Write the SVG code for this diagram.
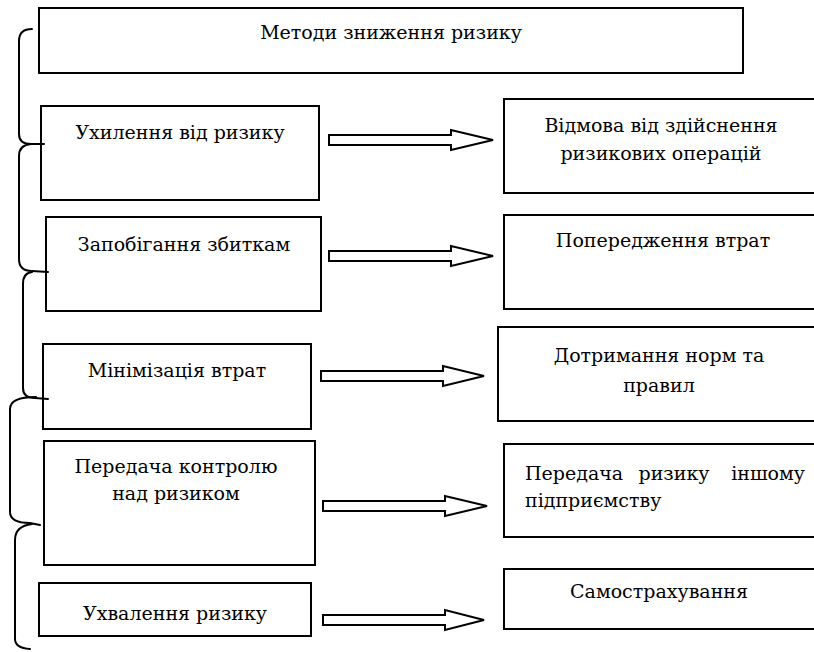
<svg xmlns="http://www.w3.org/2000/svg" width="814" height="652" viewBox="0 0 814 652">
  <defs>
    <style type="text/css">
      .box { fill: #ffffff; stroke: #000000; stroke-width: 2; }
      .arrow { fill: #ffffff; stroke: #000000; stroke-width: 2; stroke-linejoin: miter; }
      .brace { fill: none; stroke: #000000; stroke-width: 2; stroke-linecap: round; }
    </style>
  </defs>
  <rect width="814" height="652" fill="#ffffff"/>

  <g font-family="DejaVu Serif, Liberation Serif, serif" font-size="19" fill="#000000">
    <!-- root -->
    <g id="methods">
      <rect class="box" x="39" y="8" width="704" height="65"/>
      <text x="391" y="39" text-anchor="middle">Методи зниження ризику</text>
    </g>

    <!-- left column: methods -->
    <g id="avoidance">
      <rect class="box" x="41" y="106" width="278" height="94"/>
      <text x="180" y="139" text-anchor="middle">Ухилення від ризику</text>
    </g>
    <g id="prevention">
      <rect class="box" x="46" y="217" width="275" height="94"/>
      <text x="184" y="251" text-anchor="middle">Запобігання збиткам</text>
    </g>
    <g id="minimisation">
      <rect class="box" x="43" y="344" width="268" height="85"/>
      <text x="177" y="377" text-anchor="middle">Мінімізація втрат</text>
    </g>
    <g id="transfer">
      <rect class="box" x="44" y="441" width="271" height="124"/>
      <text x="176" y="473" text-anchor="middle">Передача контролю</text>
      <text x="176" y="500" text-anchor="middle">над ризиком</text>
    </g>
    <g id="acceptance">
      <rect class="box" x="39" y="583" width="272" height="53"/>
      <text x="175" y="620" text-anchor="middle">Ухвалення ризику</text>
    </g>

    <!-- right column: measures (boxes run past the right edge) -->
    <g id="refusal">
      <rect class="box" x="504" y="99" width="320" height="94"/>
      <text x="661" y="132" text-anchor="middle">Відмова від здійснення</text>
      <text x="661" y="160" text-anchor="middle">ризикових операцій</text>
    </g>
    <g id="loss-prevention">
      <rect class="box" x="504" y="215" width="320" height="94"/>
      <text x="663" y="247" text-anchor="middle">Попередження втрат</text>
    </g>
    <g id="compliance">
      <rect class="box" x="498" y="327" width="326" height="94"/>
      <text x="659" y="362" text-anchor="middle">Дотримання норм та</text>
      <text x="659" y="392" text-anchor="middle">правил</text>
    </g>
    <g id="risk-transfer">
      <rect class="box" x="504" y="444" width="320" height="93"/>
      <!-- justified first line -->
      <text x="525" y="480">Передача</text>
      <text x="674" y="480" text-anchor="middle">ризику</text>
      <text x="805" y="480" text-anchor="end">іншому</text>
      <text x="525" y="507">підприємству</text>
    </g>
    <g id="self-insurance">
      <rect class="box" x="504" y="569" width="320" height="60"/>
      <text x="659" y="598" text-anchor="middle">Самострахування</text>
    </g>
  </g>

  <!-- connectors -->
  <g id="connectors">
    <!-- block arrows -->
    <polygon class="arrow" points="329,135 451,135 451,130 493,140 451,150 451,145 329,145"/>
    <polygon class="arrow" points="329,251 451,251 451,246 493,256 451,266 451,261 329,261"/>
    <polygon class="arrow" points="321,371 443,371 443,366 484,376 443,386 443,381 321,381"/>
    <polygon class="arrow" points="323,501 445,501 445,496 487,506 445,516 445,511 323,511"/>
    <polygon class="arrow" points="323,615 445,615 445,610 484,620 445,630 445,625 323,625"/>

    <!-- chained braces on the left -->
    <path class="brace" d="M 32,29 Q 19,29 19,41 L 19,134 Q 19,144 31,144 L 44,144"/>
    <path class="brace" d="M 31,144 Q 19,145 19,156 L 19,259 Q 19,271 32,271 L 48,272"/>
    <path class="brace" d="M 32,272 Q 23,273 23,284 L 23,388 Q 23,398 35,398 L 48,399"/>
    <path class="brace" d="M 36,397 Q 10,397 10,409 L 10,512 Q 10,523 30,523 L 40,525"/>
    <path class="brace" d="M 32,524 Q 15,526 15,540 L 15,639 Q 15,648 30,649"/>
  </g>
</svg>
